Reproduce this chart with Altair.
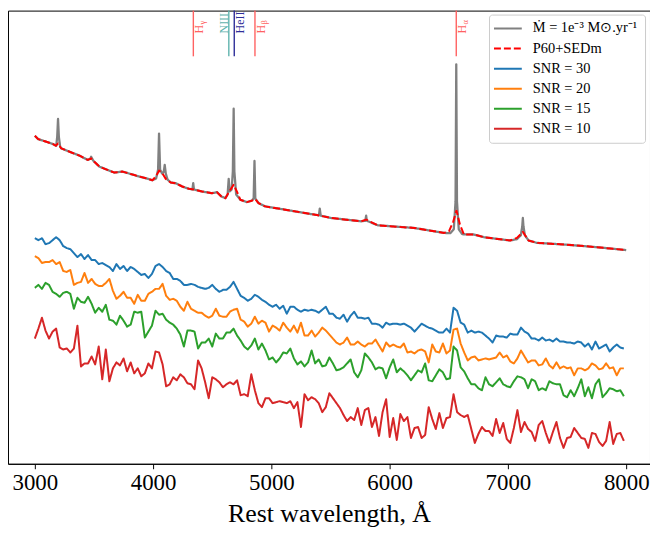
import altair as alt
import pandas as pd

# ---------------- data ----------------
series_names = ["Ṁ = 1e⁻³ M⊙.yr⁻¹", "P60+SEDm", "SNR = 30", "SNR = 20", "SNR = 15", "SNR = 10"]
series_colors = ["#808080", "#ff0000", "#1f77b4", "#ff7f0e", "#2ca02c", "#d62728"]
series_dashes = [[1, 0], [7, 3], [1, 0], [1, 0], [1, 0], [1, 0]]

# high-resolution model spectrum (arbitrary flux units)
model_wave = [3000, 3028, 3098, 3154, 3181, 3189, 3196, 3203, 3214, 3224, 3294, 3378, 3448, 3469, 3476,
              3484, 3496, 3546, 3602, 3672, 3742, 3771, 3855, 3939, 3994, 4025, 4042, 4050, 4059, 4076,
              4090, 4098, 4107, 4122, 4149, 4191, 4246, 4302, 4332, 4339, 4345, 4414, 4498, 4540, 4577,
              4611, 4630, 4639, 4647, 4664, 4674, 4681, 4687, 4702, 4737, 4792, 4834, 4850, 4857, 4864,
              4891, 4947, 5115, 5283, 5402, 5409, 5417, 5507, 5759, 5794, 5801, 5807, 5899, 6207, 6460,
              6512, 6542, 6557, 6563, 6569, 6584, 6613, 6712, 6796, 7019, 7076, 7109, 7121, 7126, 7131,
              7143, 7174, 7244, 7468, 7748, 8000]
model_flux = [330, 326.7, 324, 321.7, 320, 329, 347, 329, 319, 317.3, 314, 310, 305.7, 307, 309,
              307, 304.7, 299, 296.3, 293, 294, 293, 290, 287.3, 285.3, 287, 296, 332.3, 296, 292,
              294, 300.7, 292, 286, 283, 282.3, 279, 276.7, 276, 282.3, 276, 274, 272.3, 273.3, 269,
              267.3, 271, 286.7, 274, 276, 294, 357.3, 294, 271, 265.7, 263.3, 264.7, 267, 304.7, 267,
              262.3, 259, 255.7, 252.3, 250, 256.7, 249.7, 247.3, 244, 244.5, 249.7, 244.5, 240, 237.3, 232.3,
              232, 236, 264, 402, 264, 236, 231, 230.7, 228, 224.7, 226, 230, 239, 247.3, 239,
              230, 224.7, 222.3, 220.7, 218, 215]

# P60+SEDm resolution version
p60_wave = [3000, 3028, 3098, 3154, 3176, 3196, 3224, 3294, 3378, 3448, 3476, 3496, 3546, 3602, 3672,
            3742, 3771, 3855, 3939, 3994, 4023, 4050, 4078, 4107, 4149, 4191, 4246, 4302, 4344, 4414,
            4498, 4540, 4577, 4611, 4644, 4681, 4708, 4737, 4792, 4834, 4863, 4891, 4947, 5115, 5283,
            5395, 5507, 5759, 5801, 5899, 6207, 6460, 6502, 6538, 6565, 6594, 6628, 6712, 6796, 7019,
            7076, 7126, 7174, 7244, 7468, 7748, 8000]
p60_flux = [330, 326.7, 324, 321.7, 320, 322.3, 317.3, 314, 310, 305.7, 307.3, 304.7, 299, 296.3, 293,
            294, 293, 290, 287.3, 285.3, 289, 295, 292.3, 286.7, 283, 282.3, 279, 276.7, 276, 274,
            272.3, 273.3, 269, 267.3, 274, 280.7, 274, 265.7, 263.3, 264.7, 266.3, 262.3, 259, 255.7, 252.3,
            250, 247.3, 244, 245.7, 240, 237.3, 232.3, 234, 244, 254.7, 240.7, 230.7, 230.7, 228, 224.7,
            227.3, 233.3, 224.7, 222.3, 220.7, 218, 215]

# simulated spectra on a common 30 A grid
snr_wave = list(range(3000, 7990, 30))
snr30 = [227, 225, 227, 221, 222, 225, 228, 225, 219, 217, 216, 212, 208, 211, 206, 210, 205, 205, 201, 202,
         200, 198, 194, 201, 196, 199, 194, 198, 196, 193, 190, 191, 187, 191, 199, 201, 198, 194, 192, 186,
         186, 184, 180,
         180, 181, 180, 178, 177, 176, 177, 180, 176, 173, 175, 175, 178, 183, 176, 169, 167, 164, 166, 170,
         168, 165, 163, 160, 158, 160, 156, 159, 151, 158, 158, 155, 153, 155, 154, 155, 154, 152, 155, 158,
         151,
         151, 147, 146, 150, 143, 149, 153, 147, 147, 146, 147, 141, 141, 140, 137, 142, 140, 141, 141, 140,
         141, 139, 137, 133, 137, 141, 139, 137, 136, 134, 132, 132, 136, 132, 157, 154, 142, 140, 132, 134,
         132, 133,
         132, 129, 126, 122, 129, 128, 128, 127, 131, 130, 130, 137, 133, 131, 126, 126, 124, 127, 124, 125,
         123, 126, 123, 123, 122, 122, 121, 123, 122, 118, 121, 115, 123, 116, 118, 120, 113, 117, 120, 117,
         116]
snr20 = [209, 207, 202, 203, 203, 205, 201, 203, 194, 193, 195, 180, 182, 183, 192, 182, 186, 181, 179, 179,
         182, 186, 174, 166, 169, 173, 167, 167, 161, 170, 164, 164, 171, 173, 176, 176, 181, 169, 165, 166,
         164, 158, 154,
         163, 156, 154, 152, 152, 149, 147, 149, 156, 149, 148, 148, 153, 155, 156, 145, 143, 138, 141, 148,
         141, 144, 142, 133, 139, 137, 134, 142, 137, 133, 139, 132, 142, 129, 129, 134, 128, 132, 137, 134,
         130,
         126, 122, 120, 122, 127, 120, 120, 123, 120, 118, 121, 121, 125, 119, 113, 122, 118, 120, 118, 117,
         121, 112, 113, 111, 114, 115, 113, 102, 120, 113, 112, 121, 111, 114, 135, 136, 121, 112, 104, 107,
         108, 104,
         105, 106, 105, 106, 107, 112, 107, 109, 103, 101, 106, 114, 108, 102, 104, 104, 99, 100, 106, 99,
         96, 102, 96, 98, 96, 97, 89, 96, 96, 94, 96, 101, 99, 95, 96, 101, 96, 97, 89, 96,
         96]
snr15 = [177, 180, 176, 182, 180, 173, 171, 168, 172, 173, 171, 156, 167, 163, 162, 168, 161, 152, 157, 153,
         160, 145, 144, 140, 149, 144, 138, 140, 153, 152, 153, 127, 133, 139, 154, 150, 151, 145, 142, 140,
         136, 130, 118,
         134, 134, 133, 116, 122, 122, 126, 118, 131, 126, 126, 132, 132, 136, 129, 124, 118, 115, 119, 126,
         115, 121, 114, 105, 107, 102, 106, 112, 111, 116, 106, 100, 103, 98, 102, 114, 101, 105, 98, 99,
         107,
         101, 94, 95, 97, 101, 105, 92, 87, 94, 111, 107, 102, 95, 97, 96, 86, 97, 105, 92, 96,
         93, 89, 84, 89, 94, 92, 101, 84, 83, 89, 95, 92, 85, 86, 118, 114, 97, 93, 86, 80,
         80, 76,
         74, 87, 80, 78, 82, 86, 80, 78, 77, 83, 88, 87, 85, 76, 85, 83, 74, 76, 74, 83,
         81, 80, 80, 69, 67, 74, 68, 76, 85, 68, 77, 66, 80, 85, 67, 71, 76, 75, 73, 74,
         68]
snr10 = [126, 136, 147, 134, 126, 133, 136, 117, 115, 116, 112, 116, 139, 98, 101, 101, 108, 100, 118, 85,
         115, 83, 96, 102, 99, 106, 93, 102, 91, 96, 88, 91, 101, 96, 113, 112, 100, 78, 80, 87,
         84, 90, 87,
         81, 80, 75, 104, 96, 82, 66, 87, 85, 82, 77, 80, 82, 80, 84, 69, 70, 68, 90, 74,
         61, 57, 66, 66, 61, 62, 63, 62, 61, 63, 56, 62, 37, 70, 64, 67, 65, 61, 52, 57,
         71,
         66, 61, 56, 49, 43, 47, 44, 56, 39, 54, 56, 37, 47, 28, 52, 65, 27, 46, 24, 50,
         43, 47, 26, 36, 37, 26, 29, 57, 45, 35, 51, 36, 46, 47, 70, 52, 49, 47, 49, 35,
         21, 30,
         37, 33, 33, 28, 45, 31, 41, 25, 21, 36, 54, 32, 42, 35, 32, 23, 39, 43, 31, 21,
         32, 42, 26, 16, 26, 27, 36, 31, 26, 25, 16, 31, 30, 22, 18, 23, 42, 20, 30, 31,
         23]

# emission line markers
line_waves = [4340, 4640, 4686, 4861, 6563]
line_labels = ["H", "NIII", "HeII", "H", "H"]
line_subs = ["γ", "", "", "β", "α"]
line_colors = ["#ff6262", "#5fb3ad", "#2e2e99", "#ff6262", "#ff6262"]
line_side = ["right", "left", "right", "right", "right"]

x_ticks = [3000, 4000, 5000, 6000, 7000, 8000]

# ---------------- frames ----------------
model_df = pd.DataFrame({"wave": model_wave, "flux": model_flux, "series": series_names[0]})
p60_df = pd.DataFrame({"wave": p60_wave, "flux": p60_flux, "series": series_names[1]})
snr_rows = []
for name, vals in zip(series_names[2:], [snr30, snr20, snr15, snr10]):
    for w, f in zip(snr_wave, vals):
        snr_rows.append({"wave": w, "flux": f, "series": name})
snr_df = pd.DataFrame(snr_rows)
lines_df = pd.DataFrame({"wave": line_waves, "label": line_labels, "sub": line_subs,
                         "col": line_colors, "side": line_side})

SERIF = "Liberation Serif"
xscale = alt.Scale(domain=[2773, 8201], nice=False, zero=False)
yscale = alt.Scale(domain=[0, 456], nice=False, zero=False)
xaxis = alt.Axis(values=x_ticks, format="d", grid=False, tickSize=5, tickColor="black",
                 domainColor="black", labelColor="black", labelFont=SERIF, labelFontSize=23,
                 labelPadding=3, title="Rest wavelength, Å", titleFont=SERIF, titleFontSize=26,
                 titleFontWeight="normal", titleColor="black", titlePadding=6)
legend = alt.Legend(title=None, orient="none", legendX=484, legendY=4, direction="vertical",
                    symbolType="stroke", symbolSize=784, symbolStrokeWidth=2, clipHeight=20,
                    labelFont=SERIF, labelFontSize=14.5, labelColor="black", labelOffset=10,
                    labelLimit=400, fillColor="white", strokeColor="#cccccc", cornerRadius=3,
                    padding=4, rowPadding=0.2)
cscale = alt.Scale(domain=series_names, range=series_colors)
dscale = alt.Scale(domain=series_names, range=series_dashes)


def spectrum(df, width):
    return alt.Chart(df).mark_line(strokeWidth=width, strokeJoin="round").encode(
        x=alt.X("wave:Q", scale=xscale, axis=xaxis),
        y=alt.Y("flux:Q", scale=yscale, axis=None),
        color=alt.Color("series:N", scale=cscale, legend=legend),
        strokeDash=alt.StrokeDash("series:N", scale=dscale, legend=legend),
    )


model_layer = spectrum(model_df, 2.3)
p60_layer = spectrum(p60_df, 2)
snr_layer = spectrum(snr_df, 2)

rules = alt.Chart(lines_df).mark_rule(strokeWidth=1.4).encode(
    x=alt.X("wave:Q", scale=xscale, axis=xaxis),
    y=alt.value(0), y2=alt.value(46),
    stroke=alt.Stroke("col:N", scale=None),
)
text_right = alt.Chart(lines_df).transform_filter(alt.datum.side == "right").mark_text(
    angle=270, align="left", baseline="alphabetic", font=SERIF, fontSize=12, dy=10
).encode(
    x=alt.X("wave:Q", scale=xscale, axis=xaxis), y=alt.value(23),
    text="label:N", fill=alt.Fill("col:N", scale=None),
)
text_left = alt.Chart(lines_df).transform_filter(alt.datum.side == "left").mark_text(
    angle=270, align="left", baseline="alphabetic", font=SERIF, fontSize=12, dy=-1
).encode(
    x=alt.X("wave:Q", scale=xscale, axis=xaxis), y=alt.value(23),
    text="label:N", fill=alt.Fill("col:N", scale=None),
)
text_sub = alt.Chart(lines_df).transform_filter(alt.datum.sub != "").mark_text(
    angle=270, align="left", baseline="alphabetic", font=SERIF, fontSize=8.5, dx=9, dy=12
).encode(
    x=alt.X("wave:Q", scale=xscale, axis=xaxis), y=alt.value(23),
    text="sub:N", fill=alt.Fill("col:N", scale=None),
)

chart = alt.layer(model_layer, p60_layer, snr_layer, rules, text_right, text_left, text_sub).properties(
    width=646, height=456, padding=0
).configure_view(stroke="black", strokeWidth=1)

chart.save("out.html", embed_options={"renderer": "svg", "actions": False})
